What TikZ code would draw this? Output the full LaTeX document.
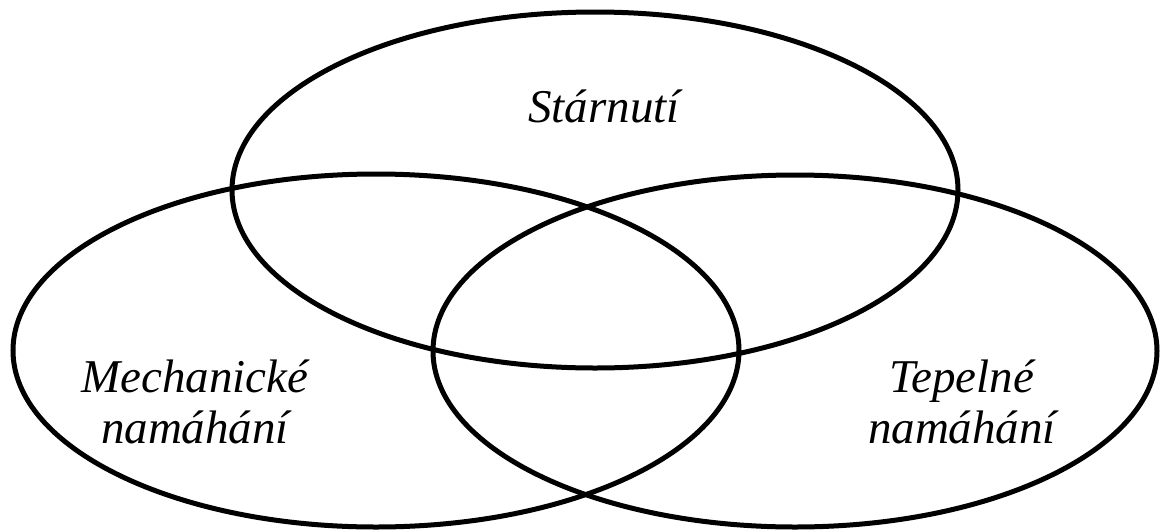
\documentclass[tikz,border=0pt]{standalone}
\usepackage{fontspec}
\setmainfont{Liberation Serif}
\begin{document}
\begin{tikzpicture}[x=1pt,y=-1pt,
  ring/.style={draw=black,line width=5pt},
  lab/.style={font=\fontsize{47}{51}\selectfont\itshape,align=center,anchor=base,inner sep=0pt}]
\useasboundingbox (0,0) rectangle (1163,531);
\draw[ring] (595,190) ellipse [x radius=363, y radius=178];
\draw[ring] (376,350.5) ellipse [x radius=363, y radius=176.5];
\draw[ring] (795,351) ellipse [x radius=362, y radius=176];
\node[lab] (s) at (604,122) {Stárnutí};
\node[lab] (m) at (195,443) {Mechanické\\namáhání};
\node[lab] (t) at (962,443) {Tepelné\\namáhání};
\end{tikzpicture}
\end{document}
